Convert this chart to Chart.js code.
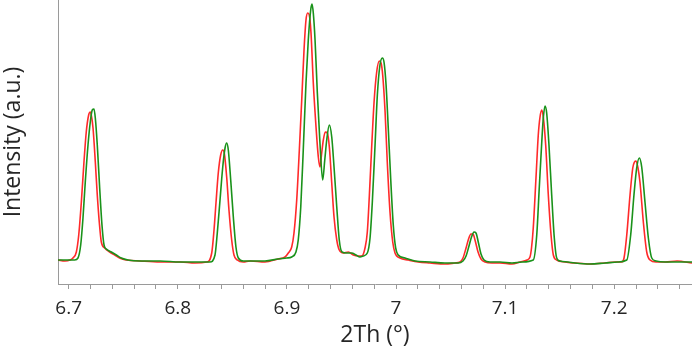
<!DOCTYPE html>
<html>
<head>
<meta charset="utf-8">
<script src="https://cdn.jsdelivr.net/npm/chart.js@4"></script>
<style>
    body { margin: 0; background: #fff; }
    #wrap { width: 692px; height: 349px; }
</style>
</head>
<body>
<div id="wrap"><canvas id="xrd"></canvas></div>
<script>
// 2Th positions and intensities (red scan)
var redTheta = [6.6902, 6.6966, 6.7012, 6.7039, 6.7070, 6.7092, 6.7116, 6.7140, 6.7161, 6.7183, 6.7198, 6.7207, 6.7223, 6.7244, 6.7262, 6.7281, 6.7299, 6.7330, 6.7376, 6.7422, 6.7467, 6.7528,
    6.7654, 6.7837, 6.8021, 6.8158, 6.8265, 6.8311, 6.8332, 6.8350, 6.8371, 6.8393, 6.8412, 6.8426, 6.8448, 6.8469, 6.8494, 6.8515, 6.8545, 6.8600,
    6.8662, 6.8799, 6.8918, 6.8983, 6.9013, 6.9044, 6.9065, 6.9090, 6.9114, 6.9136, 6.9157, 6.9175, 6.9191, 6.9205, 6.9221, 6.9242, 6.9267, 6.9288, 6.9303,
    6.9319, 6.9334, 6.9352, 6.9370, 6.9389, 6.9411, 6.9432, 6.9457, 6.9480, 6.9517, 6.9563, 6.9609, 6.9655, 6.9686,
    6.9716, 6.9737, 6.9756, 6.9778, 6.9799, 6.9823, 6.9847, 6.9863, 6.9878, 6.9900, 6.9920, 6.9945, 6.9970, 6.9991, 7.0037, 7.0113, 7.0204,
    7.0312, 7.0449, 7.0541, 7.0587, 7.0614, 7.0642, 7.0665, 7.0687, 7.0706, 7.0724, 7.0752, 7.0779, 7.0816, 7.0880,
    7.0953, 7.1063, 7.1137, 7.1201, 7.1228, 7.1242, 7.1258, 7.1283, 7.1304, 7.1320, 7.1336, 7.1350, 7.1372, 7.1396, 7.1421, 7.1442, 7.1473, 7.1549,
    7.1641, 7.1778, 7.1916, 7.2007, 7.2069, 7.2090, 7.2115, 7.2145, 7.2170, 7.2186, 7.2200, 7.2218, 7.2236, 7.2267, 7.2298, 7.2328, 7.2383,
    7.2466, 7.2576, 7.2713];
var redCounts = [240, 230, 240, 260, 320, 490, 820, 1220, 1520, 1690, 1720, 1690, 1560, 1220, 890, 610, 420, 360, 320, 290, 260, 240,
    230, 220, 220, 210, 220, 310, 540, 810, 1110, 1290, 1340, 1310, 1070, 740, 440, 290, 240, 220,
    230, 220, 250, 270, 310, 370, 510, 840, 1340, 1840, 2340, 2640, 2710, 2690, 2510, 2010, 1570, 1270, 1170,
    1310, 1440, 1520, 1510, 1370, 1010, 670, 440, 340, 310, 320, 290, 280, 280,
    360, 520, 890, 1390, 1820, 2120, 2230, 2210, 2090, 1720, 1220, 720, 420, 310, 260, 240, 220,
    210, 200, 210, 220, 260, 360, 450, 500, 500, 440, 320, 250, 220, 210,
    210, 200, 220, 240, 270, 360, 560, 1060, 1490, 1670, 1740, 1670, 1390, 890, 490, 290, 240, 220,
    210, 200, 210, 220, 220, 260, 490, 890, 1160, 1220, 1230, 1160, 1020, 620, 320, 240, 220,
    220, 230, 210];

// second scan (green), slightly shifted to higher angle
var greenTheta = [6.6902, 6.6966, 6.7020, 6.7055, 6.7085, 6.7110, 6.7131, 6.7152, 6.7177, 6.7198, 6.7216, 6.7232, 6.7244, 6.7262, 6.7284, 6.7305, 6.7324, 6.7345, 6.7391, 6.7437, 6.7482, 6.7544,
    6.7654, 6.7837, 6.8021, 6.8158, 6.8295, 6.8341, 6.8362, 6.8387, 6.8412, 6.8433, 6.8448, 6.8463, 6.8485, 6.8509, 6.8533, 6.8555, 6.8600,
    6.8662, 6.8799, 6.8918, 6.8998, 6.9044, 6.9083, 6.9104, 6.9127, 6.9150, 6.9175, 6.9196, 6.9218, 6.9230, 6.9242, 6.9258, 6.9279, 6.9303, 6.9328,
    6.9347, 6.9365, 6.9389, 6.9411, 6.9432, 6.9457, 6.9480, 6.9505, 6.9548, 6.9594, 6.9633, 6.9670,
    6.9700, 6.9737, 6.9762, 6.9783, 6.9808, 6.9829, 6.9853, 6.9875, 6.9890, 6.9909, 6.9929, 6.9951, 6.9975, 6.9997, 7.0021, 7.0083, 7.0174,
    7.0312, 7.0449, 7.0568, 7.0614, 7.0642, 7.0669, 7.0692, 7.0715, 7.0733, 7.0756, 7.0779, 7.0807, 7.0862,
    7.0953, 7.1063, 7.1155, 7.1258, 7.1290, 7.1313, 7.1336, 7.1350, 7.1366, 7.1381, 7.1402, 7.1427, 7.1451, 7.1473, 7.1503, 7.1577,
    7.1641, 7.1778, 7.1916, 7.2035, 7.2115, 7.2151, 7.2181, 7.2206, 7.2230, 7.2252, 7.2282, 7.2313, 7.2344, 7.2383,
    7.2466, 7.2576, 7.2713];
var greenCounts = [240, 240, 240, 240, 260, 390, 660, 1020, 1390, 1620, 1740, 1750, 1660, 1390, 960, 590, 390, 350, 320, 290, 260, 240,
    230, 230, 220, 220, 220, 290, 510, 840, 1170, 1360, 1410, 1340, 1040, 670, 370, 260, 230,
    230, 230, 250, 260, 270, 320, 440, 770, 1340, 2010, 2440, 2740, 2800, 2710, 2440, 1910, 1410, 1040,
    1240, 1440, 1590, 1470, 1170, 770, 440, 320, 310, 310, 290, 270,
    280, 310, 460, 820, 1390, 1890, 2190, 2260, 2220, 1990, 1560, 1060, 590, 360, 290, 260, 230,
    220, 210, 210, 230, 280, 380, 470, 520, 510, 410, 300, 240, 220,
    220, 210, 220, 240, 490, 960, 1420, 1660, 1780, 1710, 1390, 890, 460, 260, 230, 220,
    210, 200, 210, 220, 240, 490, 890, 1160, 1260, 1170, 820, 460, 260, 230,
    220, 220, 220];

var xMin = 6.6902;
var xMax = 7.2713;
var yMax = 2840;

function toPoints(xs, ys) {
    return xs.map(function(x, i) { return { x: x, y: ys[i] }; });
}

var axisGray = '#9a9a9a';
var textColor = '#262626';
var fontName = "'Open Sans', 'Noto Sans', sans-serif";

var chart = new Chart(document.getElementById('xrd').getContext('2d'), {
    type: 'line',
    data: {
        datasets: [{
            label: 'scan 2',
            data: toPoints(greenTheta, greenCounts),
            borderColor: '#1a921a',
            borderWidth: 1.6,
            pointRadius: 0,
            cubicInterpolationMode: 'monotone',
            fill: false
        }, {
            label: 'scan 1',
            data: toPoints(redTheta, redCounts),
            borderColor: '#ff2a2a',
            borderWidth: 1.6,
            pointRadius: 0,
            cubicInterpolationMode: 'monotone',
            fill: false
        }]
    },
    options: {
        responsive: true,
        maintainAspectRatio: false,
        animation: false,
        layout: { padding: 0 },
        plugins: {
            legend: { display: false },
            tooltip: { enabled: false }
        },
        scales: {
            x: {
                type: 'linear',
                min: xMin,
                max: xMax,
                afterFit: function(scale) { scale.height = 65; },
                border: { display: true, color: axisGray, width: 1 },
                grid: {
                    display: true,
                    drawOnChartArea: false,
                    drawTicks: true,
                    tickLength: 5,
                    color: axisGray
                },
                ticks: {
                    stepSize: 0.02,
                    includeBounds: false,
                    autoSkip: false,
                    maxRotation: 0,
                    padding: 8,
                    color: textColor,
                    font: { family: fontName, size: 19 },
                    callback: function(value) {
                        // label only the tenths, the rest are minor ticks
                        var r = Math.round(value * 10);
                        if (Math.abs(value * 10 - r) > 1e-6) return '';
                        return String(r / 10);
                    }
                },
                title: {
                    display: true,
                    text: '2Th (°)',
                    color: textColor,
                    font: { family: fontName, size: 23 },
                    padding: { top: 0, bottom: 0 }
                }
            },
            y: {
                min: 0,
                max: yMax,
                afterFit: function(scale) { scale.width = 58; },
                border: { display: true, color: axisGray, width: 1 },
                grid: { display: false },
                ticks: { display: false },
                title: {
                    display: true,
                    text: 'Intensity (a.u.)',
                    color: textColor,
                    font: { family: fontName, size: 23 },
                    padding: { top: 0, bottom: 0 }
                }
            }
        }
    }
});
</script>
</body>
</html>
